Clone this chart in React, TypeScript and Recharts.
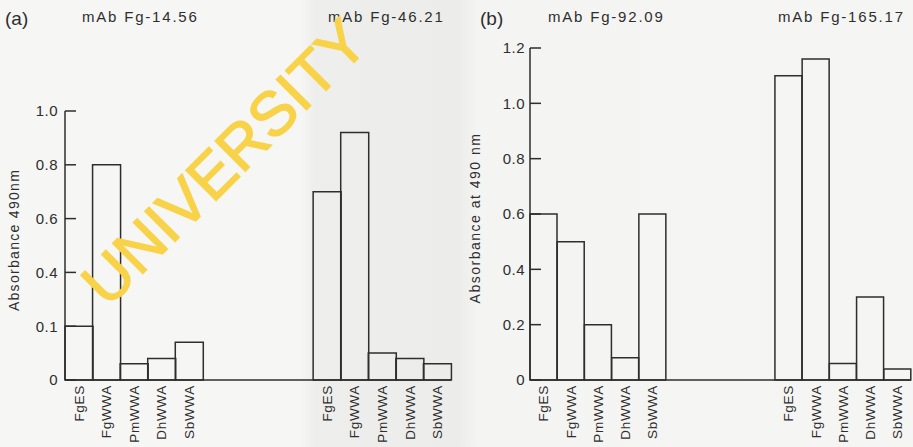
import React from "react";
import { Bar, BarChart, XAxis, YAxis } from "recharts";

const categories = ["FgES", "FgWWA", "PmWWA", "DhWWA", "SbWWA"];
const fg1456 = [0.2, 0.8, 0.06, 0.08, 0.14];
const fg4621 = [0.7, 0.92, 0.1, 0.08, 0.06];
const fg9209 = [0.6, 0.5, 0.2, 0.08, 0.6];
const fg16517 = [1.1, 1.16, 0.06, 0.3, 0.04];
const gapSlots = 4;

const aTicks = [0, 0.2, 0.4, 0.6, 0.8, 1.0];
const aTickLabels = ["0", "0.1", "0.4", "0.6", "0.8", "1.0"];
const bTicks = [0, 0.2, 0.4, 0.6, 0.8, 1.0, 1.2];
const bTickLabels = ["0", "0.2", "0.4", "0.6", "0.8", "1.0", "1.2"];

const INK = "#2e2e2e";
const FONT = "'Liberation Sans', Arial, sans-serif";

type Row = { key: string; name: string; value: number | null };

function buildRows(left: number[], right: number[]): Row[] {
  const rows: Row[] = [];
  categories.forEach((c, i) => rows.push({ key: "L" + i, name: c, value: left[i] }));
  for (let j = 0; j < gapSlots; j++) rows.push({ key: "G" + j, name: "", value: null });
  categories.forEach((c, i) => rows.push({ key: "R" + i, name: c, value: right[i] }));
  return rows;
}

const rowsA = buildRows(fg1456, fg4621);
const rowsB = buildRows(fg9209, fg16517);

function makeXTick(rows: Row[]) {
  return (props: any) => {
    const { x, y, payload } = props;
    const row = rows.find((r) => r.key === payload.value);
    if (!row || !row.name) return <g />;
    return (
      <text
        x={x}
        y={y}
        dy="0.36em"
        transform={`rotate(-90, ${x}, ${y})`}
        textAnchor="end"
        fontFamily={FONT}
        fontSize={13.5}
        letterSpacing={0.7}
        fill={INK}
      >
        {row.name}
      </text>
    );
  };
}

const textStyle: React.CSSProperties = {
  position: "absolute",
  fontFamily: FONT,
  color: INK,
  whiteSpace: "nowrap",
  lineHeight: 1,
};

function Panel({
  rows,
  ticks,
  labels,
  max,
  left,
  width,
  margin,
  labelGap,
}: {
  rows: Row[];
  ticks: number[];
  labels: string[];
  max: number;
  left: number;
  width: number;
  margin: { top: number; right: number; bottom: number; left: number };
  labelGap: number;
}) {
  return (
    <div style={{ position: "absolute", left, top: 0 }}>
      <BarChart width={width} height={447} data={rows} margin={margin} barCategoryGap={0} barGap={0}>
        <XAxis
          dataKey="key"
          interval={0}
          tickLine={false}
          tickSize={0}
          tickMargin={5}
          height={60}
          axisLine={{ stroke: INK, strokeWidth: 1.5 }}
          tick={makeXTick(rows)}
        />
        <YAxis
          domain={[0, max]}
          ticks={ticks}
          width={40}
          tickSize={-11}
          tickMargin={11 + labelGap}
          tickLine={{ stroke: INK, strokeWidth: 1.5 }}
          axisLine={{ stroke: INK, strokeWidth: 1.5 }}
          tickFormatter={(v: number) => labels[ticks.indexOf(v)]}
          tick={{ fill: INK, fontSize: 15, fontFamily: FONT, letterSpacing: 0.5 }}
        />
        <Bar dataKey="value" fill="none" stroke={INK} strokeWidth={1.5} isAnimationActive={false} />
      </BarChart>
    </div>
  );
}

export default function App() {
  return (
    <div
      style={{
        position: "absolute",
        left: 0,
        top: 0,
        width: 913,
        height: 447,
        overflow: "hidden",
        background:
          "linear-gradient(90deg, #f6f6f4 0px, #f6f6f4 300px, #eeeeec 314px, #ececea 458px, #f4f4f2 478px, #f5f5f3 913px)",
      }}
    >
      <Panel
        rows={rowsA}
        ticks={aTicks}
        labels={aTickLabels}
        max={1.0}
        left={0}
        width={460}
        margin={{ top: 111, right: 9, bottom: 7, left: 25 }}
        labelGap={7}
      />
      <Panel
        rows={rowsB}
        ticks={bTicks}
        labels={bTickLabels}
        max={1.2}
        left={460}
        width={453}
        margin={{ top: 48, right: 2, bottom: 7, left: 30 }}
        labelGap={5}
      />

      <div style={{ ...textStyle, left: 5, top: 9, fontSize: 19 }}>(a)</div>
      <div style={{ ...textStyle, left: 82, top: 9, fontSize: 15, letterSpacing: 1.8 }}>mAb Fg-14.56</div>
      <div style={{ ...textStyle, left: 328, top: 9, fontSize: 15, letterSpacing: 1.8 }}>mAb Fg-46.21</div>
      <div style={{ ...textStyle, left: 480, top: 9, fontSize: 19 }}>(b)</div>
      <div style={{ ...textStyle, left: 548, top: 9, fontSize: 15, letterSpacing: 1.8 }}>mAb Fg-92.09</div>
      <div style={{ ...textStyle, left: 778, top: 9, fontSize: 15, letterSpacing: 1.8 }}>mAb Fg-165.17</div>

      <div
        style={{
          ...textStyle,
          left: 14,
          top: 240,
          fontSize: 14,
          letterSpacing: 1.3,
          transform: "translate(-50%, -50%) rotate(-90deg)",
        }}
      >
        Absorbance 490nm
      </div>
      <div
        style={{
          ...textStyle,
          left: 475,
          top: 218,
          fontSize: 14,
          letterSpacing: 1.5,
          transform: "translate(-50%, -50%) rotate(-90deg)",
        }}
      >
        Absorbance at 490 nm
      </div>

      <svg width={913} height={447} style={{ position: "absolute", left: 0, top: 0, pointerEvents: "none" }}>
        <text
          x={224}
          y={162}
          transform="rotate(-45, 224, 162)"
          textAnchor="middle"
          dominantBaseline="central"
          fontFamily={FONT}
          fontSize={62}
          fill="#f8d34a"
          stroke="#f8d34a"
          strokeWidth={1.5}
        >
          UNIVERSITY
        </text>
      </svg>
    </div>
  );
}
